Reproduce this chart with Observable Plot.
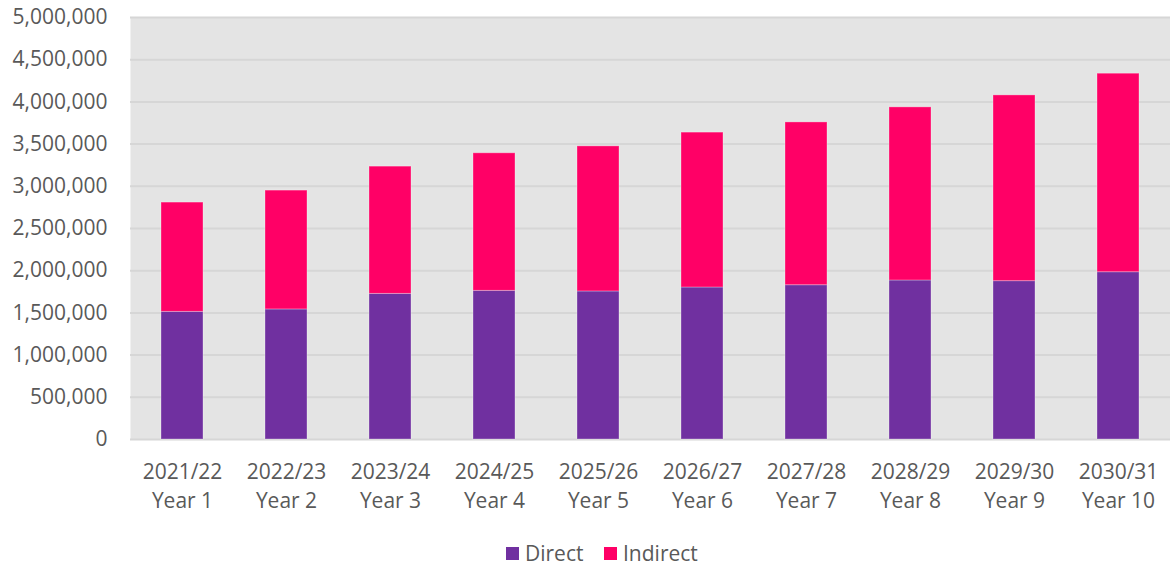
<!DOCTYPE html>
<html>
<head>
<meta charset="utf-8">
<script src="https://cdn.jsdelivr.net/npm/d3@7"></script>
<script src="https://cdn.jsdelivr.net/npm/@observablehq/plot@0.6"></script>
<style>
  html, body { margin: 0; padding: 0; background: #ffffff; }
  body { width: 1170px; height: 567px; overflow: hidden; font-family: "Open Sans", sans-serif; }
  #chart svg { display: block; }
  #legend { position: relative; height: 37px; font-size: 21px; color: #595959; }
  .item { position: absolute; top: 7px; display: flex; align-items: center; height: 32px; }
  .sw { width: 13px; height: 13px; margin-right: 6px; }
</style>
</head>
<body>
<div id="chart"></div>
<div id="legend"></div>
<script>
const periods = ["2021/22","2022/23","2023/24","2024/25","2025/26","2026/27","2027/28","2028/29","2029/30","2030/31"];
const yearLabels = ["Year 1","Year 2","Year 3","Year 4","Year 5","Year 6","Year 7","Year 8","Year 9","Year 10"];
const direct = [1512000,1541000,1725000,1761000,1754000,1801000,1828000,1884000,1876000,1982000];
const indirect = [1295000,1408000,1508000,1630000,1719000,1835000,1929000,2051000,2201000,2352000];
const seriesNames = ["Direct","Indirect"];
const seriesColors = ["#7030a0","#ff0066"];
const yTicks = [0,500000,1000000,1500000,2000000,2500000,3000000,3500000,4000000,4500000,5000000];

const categories = periods.map((p, i) => p + "\n" + yearLabels[i]);
const rows = [];
categories.forEach((c, i) => rows.push({cat: c, type: "Direct", value: direct[i]}));
categories.forEach((c, i) => rows.push({cat: c, type: "Indirect", value: indirect[i]}));

const chart = Plot.plot({
  width: 1170,
  height: 530,
  marginTop: 17,
  marginBottom: 91,
  marginLeft: 130,
  marginRight: 0,
  style: {fontFamily: "Open Sans, sans-serif", fontSize: "21px", color: "#595959", background: "#ffffff"},
  x: {domain: categories, paddingInner: 0.6, paddingOuter: 0.29, label: null},
  y: {domain: [0, 5000000], label: null},
  color: {domain: seriesNames, range: seriesColors},
  marks: [
    Plot.frame({fill: "#e4e4e4", stroke: null}),
    Plot.ruleY(yTicks, {stroke: "#d6d6d6", strokeWidth: 2}),
    Plot.barY(rows, {x: "cat", y: "value", fill: "type", stroke: "#ffffff", strokeOpacity: 0.3, strokeWidth: 1, order: seriesNames}),
    Plot.axisY({ticks: yTicks, tickFormat: d3.format(","), tickSize: 0, tickPadding: 23, fill: "#595959", fontSize: 21, label: null}),
    Plot.axisX({tickSize: 0, tickPadding: 18, lineHeight: 1.42, fill: "#595959", fontSize: 21, label: null})
  ]
});
document.getElementById("chart").appendChild(chart);

const legend = document.getElementById("legend");
const lefts = [506, 604];
seriesNames.forEach((name, i) => {
  const item = document.createElement("div");
  item.className = "item";
  item.style.left = lefts[i] + "px";
  const sw = document.createElement("span");
  sw.className = "sw";
  sw.style.background = seriesColors[i];
  const t = document.createElement("span");
  t.textContent = name;
  item.appendChild(sw);
  item.appendChild(t);
  legend.appendChild(item);
});
</script>
</body>
</html>
